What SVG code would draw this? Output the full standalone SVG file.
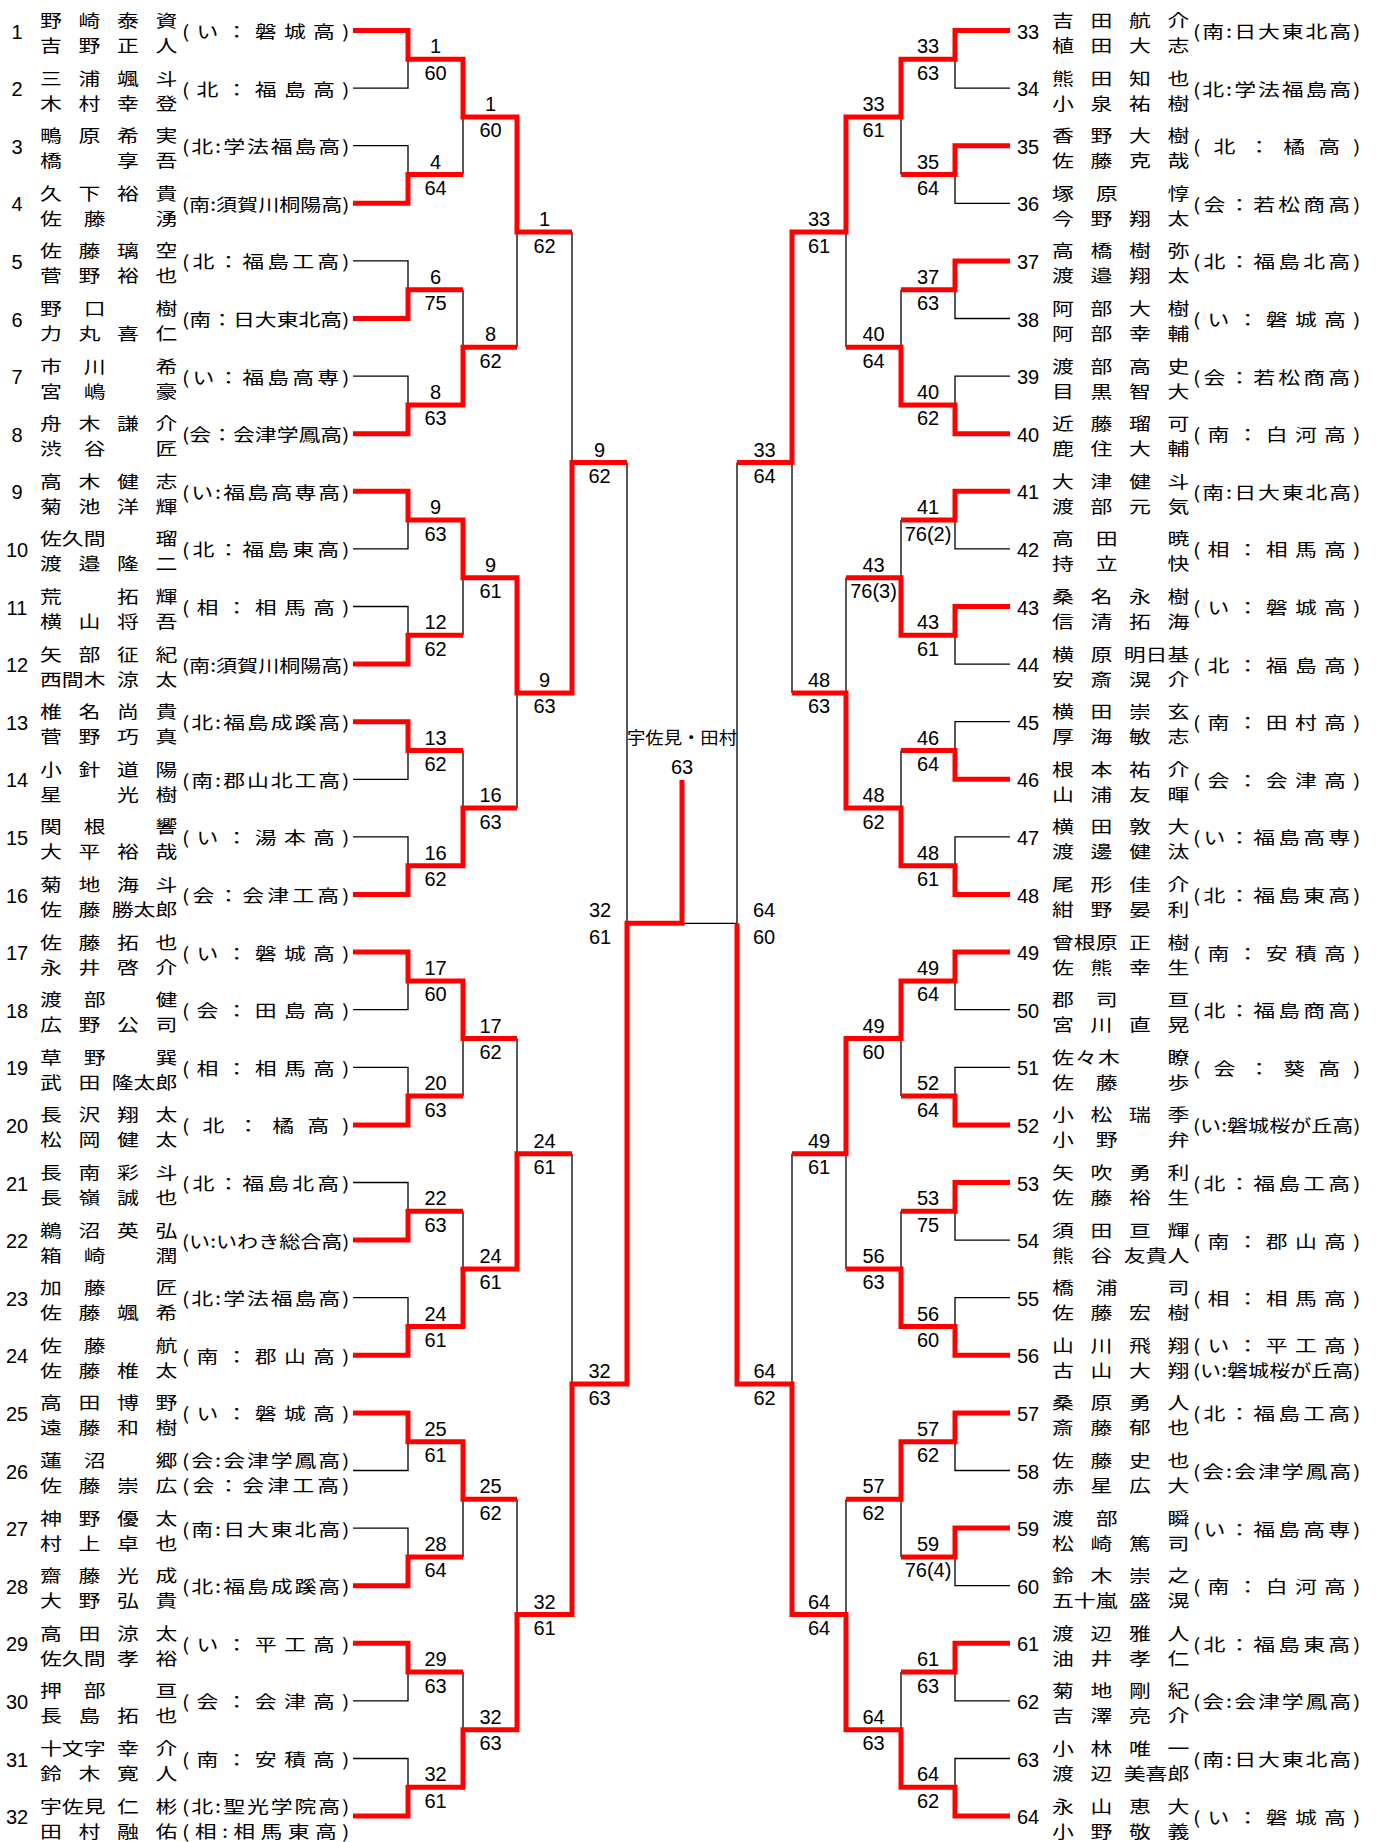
<svg xmlns="http://www.w3.org/2000/svg" width="1378" height="1842" viewBox="0 0 1378 1842">
<style>
.n{font-family:"Liberation Sans",Arial,sans-serif;font-size:20px;text-anchor:middle;fill:#000}
.j{font-family:"Noto Sans CJK JP","Noto Sans CJK SC",sans-serif;font-size:17.5px;fill:#000}
.k{fill:none;stroke:#000;stroke-width:1.3}
.r{fill:none;stroke:#f00;stroke-width:5;stroke-linejoin:miter}
</style>
<rect width="1378" height="1842" fill="#fff"/>
<g id="connectors">
<path class="k" d="M353 88.1H408V59.3M353 145.7H408V174.5M353 260.9H408V289.7M353 376.1H408V404.9M353 548.9H408V520.1M353 606.5H408V635.3M353 779.3H408V750.5M353 836.9H408V865.7M353 1009.7H408V980.9M353 1067.3H408V1096.1M353 1182.5H408V1211.3M353 1297.7H408V1326.5M353 1470.5H408V1441.7M353 1528.1H408V1556.9M353 1700.9H408V1672.1M353 1758.5H408V1787.3"/>
<path class="k" d="M463 174.5V116.9M463 289.7V347.3M463 635.3V577.7M463 750.5V808.1M463 1096.1V1038.5M463 1211.3V1268.9M463 1556.9V1499.3M463 1672.1V1729.7M517 347.3V232.1M517 808.1V692.9M517 1038.5V1153.7M517 1499.3V1614.5M572 232.1V462.5M572 1153.7V1384.1M627 462.5V923.3M682 923.3H737M737 462.5V923.3"/>
<path class="k" d="M792 692.9V462.5M792 1153.7V1384.1M846 347.3V232.1M846 577.7V692.9M846 1268.9V1153.7M846 1499.3V1614.5M901 174.5V116.9M901 289.7V347.3M901 520.1V577.7M901 750.5V808.1M901 1096.1V1038.5M901 1211.3V1268.9M901 1556.9V1499.3M901 1672.1V1729.7"/>
<path class="k" d="M1010 88.1H955V59.3M1010 203.3H955V174.5M1010 318.5H955V289.7M1010 376.1H955V404.9M1010 548.9H955V520.1M1010 664.1H955V635.3M1010 721.7H955V750.5M1010 836.9H955V865.7M1010 1009.7H955V980.9M1010 1067.3H955V1096.1M1010 1240.1H955V1211.3M1010 1297.7H955V1326.5M1010 1470.5H955V1441.7M1010 1585.7H955V1556.9M1010 1700.9H955V1672.1M1010 1758.5H955V1787.3"/>
<path class="r" d="M353 30.5H408V59.3H463V116.9H517V232.1H572M353 203.3H408V174.5H463M353 318.5H408V289.7H463M353 433.7H408V404.9H463V347.3H517M353 491.3H408V520.1H463V577.7H517V692.9H572V462.5H627M353 664.1H408V635.3H463M353 721.7H408V750.5H463M353 894.5H408V865.7H463V808.1H517M353 952.1H408V980.9H463V1038.5H517M353 1124.9H408V1096.1H463M353 1240.1H408V1211.3H463M353 1355.3H408V1326.5H463V1268.9H517V1153.7H572M353 1412.9H408V1441.7H463V1499.3H517M353 1585.7H408V1556.9H463M353 1643.3H408V1672.1H463M353 1816.1H408V1787.3H463V1729.7H517V1614.5H572V1384.1H627V923.3H682V780"/>
<path class="r" d="M1010 30.5H955V59.3H901V116.9H846V232.1H792V462.5H737M1010 145.7H955V174.5H901M1010 260.9H955V289.7H901M1010 433.7H955V404.9H901V347.3H846M1010 491.3H955V520.1H901M1010 606.5H955V635.3H901V577.7H846M1010 779.3H955V750.5H901M1010 894.5H955V865.7H901V808.1H846V692.9H792M1010 952.1H955V980.9H901V1038.5H846V1153.7H792M1010 1124.9H955V1096.1H901M1010 1182.5H955V1211.3H901M1010 1355.3H955V1326.5H901V1268.9H846M1010 1412.9H955V1441.7H901V1499.3H846M1010 1528.1H955V1556.9H901M1010 1643.3H955V1672.1H901M1010 1816.1H955V1787.3H901V1729.7H846V1614.5H792V1384.1H737V923.3"/>
</g>
<g id="scores" class="n">
<text x="435.5" y="53.3">1</text><text x="435.5" y="79.8">60</text>
<text x="435.5" y="168.5">4</text><text x="435.5" y="195">64</text>
<text x="435.5" y="283.7">6</text><text x="435.5" y="310.2">75</text>
<text x="435.5" y="398.9">8</text><text x="435.5" y="425.4">63</text>
<text x="435.5" y="514.1">9</text><text x="435.5" y="540.6">63</text>
<text x="435.5" y="629.3">12</text><text x="435.5" y="655.8">62</text>
<text x="435.5" y="744.5">13</text><text x="435.5" y="771">62</text>
<text x="435.5" y="859.7">16</text><text x="435.5" y="886.2">62</text>
<text x="435.5" y="974.9">17</text><text x="435.5" y="1001.4">60</text>
<text x="435.5" y="1090.1">20</text><text x="435.5" y="1116.6">63</text>
<text x="435.5" y="1205.3">22</text><text x="435.5" y="1231.8">63</text>
<text x="435.5" y="1320.5">24</text><text x="435.5" y="1347">61</text>
<text x="435.5" y="1435.7">25</text><text x="435.5" y="1462.2">61</text>
<text x="435.5" y="1550.9">28</text><text x="435.5" y="1577.4">64</text>
<text x="435.5" y="1666.1">29</text><text x="435.5" y="1692.6">63</text>
<text x="435.5" y="1781.3">32</text><text x="435.5" y="1807.8">61</text>
<text x="490.5" y="110.9">1</text><text x="490.5" y="137.4">60</text>
<text x="490.5" y="341.3">8</text><text x="490.5" y="367.8">62</text>
<text x="490.5" y="571.7">9</text><text x="490.5" y="598.2">61</text>
<text x="490.5" y="802.1">16</text><text x="490.5" y="828.6">63</text>
<text x="490.5" y="1032.5">17</text><text x="490.5" y="1059">62</text>
<text x="490.5" y="1262.9">24</text><text x="490.5" y="1289.4">61</text>
<text x="490.5" y="1493.3">25</text><text x="490.5" y="1519.8">62</text>
<text x="490.5" y="1723.7">32</text><text x="490.5" y="1750.2">63</text>
<text x="544.5" y="226.1">1</text><text x="544.5" y="252.6">62</text>
<text x="544.5" y="686.9">9</text><text x="544.5" y="713.4">63</text>
<text x="544.5" y="1147.7">24</text><text x="544.5" y="1174.2">61</text>
<text x="544.5" y="1608.5">32</text><text x="544.5" y="1635">61</text>
<text x="599.5" y="456.5">9</text><text x="599.5" y="483">62</text>
<text x="599.5" y="1378.1">32</text><text x="599.5" y="1404.6">63</text>
<text x="600" y="917.3">32</text><text x="600" y="943.8">61</text>
<text x="928" y="53.3">33</text><text x="928" y="79.8">63</text>
<text x="928" y="168.5">35</text><text x="928" y="195">64</text>
<text x="928" y="283.7">37</text><text x="928" y="310.2">63</text>
<text x="928" y="398.9">40</text><text x="928" y="425.4">62</text>
<text x="928" y="514.1">41</text><text x="928" y="540.6">76(2)</text>
<text x="928" y="629.3">43</text><text x="928" y="655.8">61</text>
<text x="928" y="744.5">46</text><text x="928" y="771">64</text>
<text x="928" y="859.7">48</text><text x="928" y="886.2">61</text>
<text x="928" y="974.9">49</text><text x="928" y="1001.4">64</text>
<text x="928" y="1090.1">52</text><text x="928" y="1116.6">64</text>
<text x="928" y="1205.3">53</text><text x="928" y="1231.8">75</text>
<text x="928" y="1320.5">56</text><text x="928" y="1347">60</text>
<text x="928" y="1435.7">57</text><text x="928" y="1462.2">62</text>
<text x="928" y="1550.9">59</text><text x="928" y="1577.4">76(4)</text>
<text x="928" y="1666.1">61</text><text x="928" y="1692.6">63</text>
<text x="928" y="1781.3">64</text><text x="928" y="1807.8">62</text>
<text x="873.5" y="110.9">33</text><text x="873.5" y="137.4">61</text>
<text x="873.5" y="341.3">40</text><text x="873.5" y="367.8">64</text>
<text x="873.5" y="571.7">43</text><text x="873.5" y="598.2">76(3)</text>
<text x="873.5" y="802.1">48</text><text x="873.5" y="828.6">62</text>
<text x="873.5" y="1032.5">49</text><text x="873.5" y="1059">60</text>
<text x="873.5" y="1262.9">56</text><text x="873.5" y="1289.4">63</text>
<text x="873.5" y="1493.3">57</text><text x="873.5" y="1519.8">62</text>
<text x="873.5" y="1723.7">64</text><text x="873.5" y="1750.2">63</text>
<text x="819" y="226.1">33</text><text x="819" y="252.6">61</text>
<text x="819" y="686.9">48</text><text x="819" y="713.4">63</text>
<text x="819" y="1147.7">49</text><text x="819" y="1174.2">61</text>
<text x="819" y="1608.5">64</text><text x="819" y="1635">64</text>
<text x="764.5" y="456.5">33</text><text x="764.5" y="483">64</text>
<text x="764.5" y="1378.1">64</text><text x="764.5" y="1404.6">62</text>
<text x="764" y="917.3">64</text><text x="764" y="943.8">60</text>
</g>
<g id="champion">
<text class="j" x="627" y="744" textLength="110" lengthAdjust="spacingAndGlyphs">宇佐見・田村</text>
<text class="n" x="682" y="773.5">63</text>
</g>
<g id="p1" transform="translate(0 30.5)"><text class="n" x="17" y="8">1</text><g class="j" transform="translate(40 0) scale(1.25 1)"><text x="0 30.8 61.6 92.4" y="-3.5">野崎泰資</text><text x="0 30.8 61.6 92.4" y="21.5">吉野正人</text><text x="113.6" y="7.5" textLength="134" lengthAdjust="spacing">(い：磐城高)</text></g></g>
<g id="p2" transform="translate(0 88.1)"><text class="n" x="17" y="8">2</text><g class="j" transform="translate(40 0) scale(1.25 1)"><text x="0 30.8 61.6 92.4" y="-3.5">三浦颯斗</text><text x="0 30.8 61.6 92.4" y="21.5">木村幸登</text><text x="113.6" y="7.5" textLength="134" lengthAdjust="spacing">(北：福島高)</text></g></g>
<g id="p3" transform="translate(0 145.7)"><text class="n" x="17" y="8">3</text><g class="j" transform="translate(40 0) scale(1.25 1)"><text x="0 30.8 61.6 92.4" y="-3.5">鴫原希実</text><text x="0 61.6 92.4" y="21.5">橋享吾</text><text x="113.6" y="7.5" textLength="134" lengthAdjust="spacing">(北:学法福島高)</text></g></g>
<g id="p4" transform="translate(0 203.3)"><text class="n" x="17" y="8">4</text><g class="j" transform="translate(40 0) scale(1.25 1)"><text x="0 30.8 61.6 92.4" y="-3.5">久下裕貴</text><text x="0 35 92.4" y="21.5">佐藤湧</text><text x="113.6" y="7.5" textLength="134" lengthAdjust="spacingAndGlyphs">(南:須賀川桐陽高)</text></g></g>
<g id="p5" transform="translate(0 260.9)"><text class="n" x="17" y="8">5</text><g class="j" transform="translate(40 0) scale(1.25 1)"><text x="0 30.8 61.6 92.4" y="-3.5">佐藤璃空</text><text x="0 30.8 61.6 92.4" y="21.5">菅野裕也</text><text x="113.6" y="7.5" textLength="134" lengthAdjust="spacing">(北：福島工高)</text></g></g>
<g id="p6" transform="translate(0 318.5)"><text class="n" x="17" y="8">6</text><g class="j" transform="translate(40 0) scale(1.25 1)"><text x="0 35 92.4" y="-3.5">野口樹</text><text x="0 30.8 61.6 92.4" y="21.5">力丸喜仁</text><text x="113.6" y="7.5" textLength="134" lengthAdjust="spacing">(南：日大東北高)</text></g></g>
<g id="p7" transform="translate(0 376.1)"><text class="n" x="17" y="8">7</text><g class="j" transform="translate(40 0) scale(1.25 1)"><text x="0 35 92.4" y="-3.5">市川希</text><text x="0 35 92.4" y="21.5">宮嶋豪</text><text x="113.6" y="7.5" textLength="134" lengthAdjust="spacing">(い：福島高専)</text></g></g>
<g id="p8" transform="translate(0 433.7)"><text class="n" x="17" y="8">8</text><g class="j" transform="translate(40 0) scale(1.25 1)"><text x="0 30.8 61.6 92.4" y="-3.5">舟木謙介</text><text x="0 35 92.4" y="21.5">渋谷匠</text><text x="113.6" y="7.5" textLength="134" lengthAdjust="spacing">(会：会津学鳳高)</text></g></g>
<g id="p9" transform="translate(0 491.3)"><text class="n" x="17" y="8">9</text><g class="j" transform="translate(40 0) scale(1.25 1)"><text x="0 30.8 61.6 92.4" y="-3.5">高木健志</text><text x="0 30.8 61.6 92.4" y="21.5">菊池洋輝</text><text x="113.6" y="7.5" textLength="134" lengthAdjust="spacing">(い:福島高専高)</text></g></g>
<g id="p10" transform="translate(0 548.9)"><text class="n" x="17" y="8">10</text><g class="j" transform="translate(40 0) scale(1.25 1)"><text x="0 17.5 35 92.4" y="-3.5">佐久間瑠</text><text x="0 30.8 61.6 92.4" y="21.5">渡邉隆二</text><text x="113.6" y="7.5" textLength="134" lengthAdjust="spacing">(北：福島東高)</text></g></g>
<g id="p11" transform="translate(0 606.5)"><text class="n" x="17" y="8">11</text><g class="j" transform="translate(40 0) scale(1.25 1)"><text x="0 61.6 92.4" y="-3.5">荒拓輝</text><text x="0 30.8 61.6 92.4" y="21.5">横山将吾</text><text x="113.6" y="7.5" textLength="134" lengthAdjust="spacing">(相：相馬高)</text></g></g>
<g id="p12" transform="translate(0 664.1)"><text class="n" x="17" y="8">12</text><g class="j" transform="translate(40 0) scale(1.25 1)"><text x="0 30.8 61.6 92.4" y="-3.5">矢部征紀</text><text x="0 17.5 35 61.6 92.4" y="21.5">西間木涼太</text><text x="113.6" y="7.5" textLength="134" lengthAdjust="spacingAndGlyphs">(南:須賀川桐陽高)</text></g></g>
<g id="p13" transform="translate(0 721.7)"><text class="n" x="17" y="8">13</text><g class="j" transform="translate(40 0) scale(1.25 1)"><text x="0 30.8 61.6 92.4" y="-3.5">椎名尚貴</text><text x="0 30.8 61.6 92.4" y="21.5">菅野巧真</text><text x="113.6" y="7.5" textLength="134" lengthAdjust="spacing">(北:福島成蹊高)</text></g></g>
<g id="p14" transform="translate(0 779.3)"><text class="n" x="17" y="8">14</text><g class="j" transform="translate(40 0) scale(1.25 1)"><text x="0 30.8 61.6 92.4" y="-3.5">小針道陽</text><text x="0 61.6 92.4" y="21.5">星光樹</text><text x="113.6" y="7.5" textLength="134" lengthAdjust="spacing">(南:郡山北工高)</text></g></g>
<g id="p15" transform="translate(0 836.9)"><text class="n" x="17" y="8">15</text><g class="j" transform="translate(40 0) scale(1.25 1)"><text x="0 35 92.4" y="-3.5">関根響</text><text x="0 30.8 61.6 92.4" y="21.5">大平裕哉</text><text x="113.6" y="7.5" textLength="134" lengthAdjust="spacing">(い：湯本高)</text></g></g>
<g id="p16" transform="translate(0 894.5)"><text class="n" x="17" y="8">16</text><g class="j" transform="translate(40 0) scale(1.25 1)"><text x="0 30.8 61.6 92.4" y="-3.5">菊地海斗</text><text x="0 30.8 57.4 74.9 92.4" y="21.5">佐藤勝太郎</text><text x="113.6" y="7.5" textLength="134" lengthAdjust="spacing">(会：会津工高)</text></g></g>
<g id="p17" transform="translate(0 952.1)"><text class="n" x="17" y="8">17</text><g class="j" transform="translate(40 0) scale(1.25 1)"><text x="0 30.8 61.6 92.4" y="-3.5">佐藤拓也</text><text x="0 30.8 61.6 92.4" y="21.5">永井啓介</text><text x="113.6" y="7.5" textLength="134" lengthAdjust="spacing">(い：磐城高)</text></g></g>
<g id="p18" transform="translate(0 1009.7)"><text class="n" x="17" y="8">18</text><g class="j" transform="translate(40 0) scale(1.25 1)"><text x="0 35 92.4" y="-3.5">渡部健</text><text x="0 30.8 61.6 92.4" y="21.5">広野公司</text><text x="113.6" y="7.5" textLength="134" lengthAdjust="spacing">(会：田島高)</text></g></g>
<g id="p19" transform="translate(0 1067.3)"><text class="n" x="17" y="8">19</text><g class="j" transform="translate(40 0) scale(1.25 1)"><text x="0 35 92.4" y="-3.5">草野巽</text><text x="0 30.8 57.4 74.9 92.4" y="21.5">武田隆太郎</text><text x="113.6" y="7.5" textLength="134" lengthAdjust="spacing">(相：相馬高)</text></g></g>
<g id="p20" transform="translate(0 1124.9)"><text class="n" x="17" y="8">20</text><g class="j" transform="translate(40 0) scale(1.25 1)"><text x="0 30.8 61.6 92.4" y="-3.5">長沢翔太</text><text x="0 30.8 61.6 92.4" y="21.5">松岡健太</text><text x="113.6" y="7.5" textLength="134" lengthAdjust="spacing">(北：橘高)</text></g></g>
<g id="p21" transform="translate(0 1182.5)"><text class="n" x="17" y="8">21</text><g class="j" transform="translate(40 0) scale(1.25 1)"><text x="0 30.8 61.6 92.4" y="-3.5">長南彩斗</text><text x="0 30.8 61.6 92.4" y="21.5">長嶺誠也</text><text x="113.6" y="7.5" textLength="134" lengthAdjust="spacing">(北：福島北高)</text></g></g>
<g id="p22" transform="translate(0 1240.1)"><text class="n" x="17" y="8">22</text><g class="j" transform="translate(40 0) scale(1.25 1)"><text x="0 30.8 61.6 92.4" y="-3.5">鵜沼英弘</text><text x="0 35 92.4" y="21.5">箱崎潤</text><text x="113.6" y="7.5" textLength="134" lengthAdjust="spacingAndGlyphs">(い:いわき総合高)</text></g></g>
<g id="p23" transform="translate(0 1297.7)"><text class="n" x="17" y="8">23</text><g class="j" transform="translate(40 0) scale(1.25 1)"><text x="0 35 92.4" y="-3.5">加藤匠</text><text x="0 30.8 61.6 92.4" y="21.5">佐藤颯希</text><text x="113.6" y="7.5" textLength="134" lengthAdjust="spacing">(北:学法福島高)</text></g></g>
<g id="p24" transform="translate(0 1355.3)"><text class="n" x="17" y="8">24</text><g class="j" transform="translate(40 0) scale(1.25 1)"><text x="0 35 92.4" y="-3.5">佐藤航</text><text x="0 30.8 61.6 92.4" y="21.5">佐藤椎太</text><text x="113.6" y="7.5" textLength="134" lengthAdjust="spacing">(南：郡山高)</text></g></g>
<g id="p25" transform="translate(0 1412.9)"><text class="n" x="17" y="8">25</text><g class="j" transform="translate(40 0) scale(1.25 1)"><text x="0 30.8 61.6 92.4" y="-3.5">高田博野</text><text x="0 30.8 61.6 92.4" y="21.5">遠藤和樹</text><text x="113.6" y="7.5" textLength="134" lengthAdjust="spacing">(い：磐城高)</text></g></g>
<g id="p26" transform="translate(0 1470.5)"><text class="n" x="17" y="8">26</text><g class="j" transform="translate(40 0) scale(1.25 1)"><text x="0 35 92.4" y="-3.5">蓮沼郷</text><text x="0 30.8 61.6 92.4" y="21.5">佐藤崇広</text><text x="113.6" y="-3.5" textLength="134" lengthAdjust="spacing">(会:会津学鳳高)</text><text x="113.6" y="21.5" textLength="134" lengthAdjust="spacing">(会：会津工高)</text></g></g>
<g id="p27" transform="translate(0 1528.1)"><text class="n" x="17" y="8">27</text><g class="j" transform="translate(40 0) scale(1.25 1)"><text x="0 30.8 61.6 92.4" y="-3.5">神野優太</text><text x="0 30.8 61.6 92.4" y="21.5">村上卓也</text><text x="113.6" y="7.5" textLength="134" lengthAdjust="spacing">(南:日大東北高)</text></g></g>
<g id="p28" transform="translate(0 1585.7)"><text class="n" x="17" y="8">28</text><g class="j" transform="translate(40 0) scale(1.25 1)"><text x="0 30.8 61.6 92.4" y="-3.5">齋藤光成</text><text x="0 30.8 61.6 92.4" y="21.5">大野弘貴</text><text x="113.6" y="7.5" textLength="134" lengthAdjust="spacing">(北:福島成蹊高)</text></g></g>
<g id="p29" transform="translate(0 1643.3)"><text class="n" x="17" y="8">29</text><g class="j" transform="translate(40 0) scale(1.25 1)"><text x="0 30.8 61.6 92.4" y="-3.5">高田涼太</text><text x="0 17.5 35 61.6 92.4" y="21.5">佐久間孝裕</text><text x="113.6" y="7.5" textLength="134" lengthAdjust="spacing">(い：平工高)</text></g></g>
<g id="p30" transform="translate(0 1700.9)"><text class="n" x="17" y="8">30</text><g class="j" transform="translate(40 0) scale(1.25 1)"><text x="0 35 92.4" y="-3.5">押部亘</text><text x="0 30.8 61.6 92.4" y="21.5">長島拓也</text><text x="113.6" y="7.5" textLength="134" lengthAdjust="spacing">(会：会津高)</text></g></g>
<g id="p31" transform="translate(0 1758.5)"><text class="n" x="17" y="8">31</text><g class="j" transform="translate(40 0) scale(1.25 1)"><text x="0 17.5 35 61.6 92.4" y="-3.5">十文字幸介</text><text x="0 30.8 61.6 92.4" y="21.5">鈴木寛人</text><text x="113.6" y="7.5" textLength="134" lengthAdjust="spacing">(南：安積高)</text></g></g>
<g id="p32" transform="translate(0 1816.1)"><text class="n" x="17" y="8">32</text><g class="j" transform="translate(40 0) scale(1.25 1)"><text x="0 17.5 35 61.6 92.4" y="-3.5">宇佐見仁彬</text><text x="0 30.8 61.6 92.4" y="21.5">田村融佑</text><text x="113.6" y="-3.5" textLength="134" lengthAdjust="spacing">(北:聖光学院高)</text><text x="113.6" y="21.5" textLength="134" lengthAdjust="spacing">(相:相馬東高)</text></g></g>
<g id="p33" transform="translate(0 30.5)"><text class="n" x="1028" y="8">33</text><g class="j" transform="translate(1052 0) scale(1.25 1)"><text x="0 30.8 61.6 92.4" y="-3.5">吉田航介</text><text x="0 30.8 61.6 92.4" y="21.5">植田大志</text><text x="112.8" y="7.5" textLength="134" lengthAdjust="spacing">(南:日大東北高)</text></g></g>
<g id="p34" transform="translate(0 88.1)"><text class="n" x="1028" y="8">34</text><g class="j" transform="translate(1052 0) scale(1.25 1)"><text x="0 30.8 61.6 92.4" y="-3.5">熊田知也</text><text x="0 30.8 61.6 92.4" y="21.5">小泉祐樹</text><text x="112.8" y="7.5" textLength="134" lengthAdjust="spacing">(北:学法福島高)</text></g></g>
<g id="p35" transform="translate(0 145.7)"><text class="n" x="1028" y="8">35</text><g class="j" transform="translate(1052 0) scale(1.25 1)"><text x="0 30.8 61.6 92.4" y="-3.5">香野大樹</text><text x="0 30.8 61.6 92.4" y="21.5">佐藤克哉</text><text x="112.8" y="7.5" textLength="134" lengthAdjust="spacing">(北：橘高)</text></g></g>
<g id="p36" transform="translate(0 203.3)"><text class="n" x="1028" y="8">36</text><g class="j" transform="translate(1052 0) scale(1.25 1)"><text x="0 35 92.4" y="-3.5">塚原惇</text><text x="0 30.8 61.6 92.4" y="21.5">今野翔太</text><text x="112.8" y="7.5" textLength="134" lengthAdjust="spacing">(会：若松商高)</text></g></g>
<g id="p37" transform="translate(0 260.9)"><text class="n" x="1028" y="8">37</text><g class="j" transform="translate(1052 0) scale(1.25 1)"><text x="0 30.8 61.6 92.4" y="-3.5">高橋樹弥</text><text x="0 30.8 61.6 92.4" y="21.5">渡邉翔太</text><text x="112.8" y="7.5" textLength="134" lengthAdjust="spacing">(北：福島北高)</text></g></g>
<g id="p38" transform="translate(0 318.5)"><text class="n" x="1028" y="8">38</text><g class="j" transform="translate(1052 0) scale(1.25 1)"><text x="0 30.8 61.6 92.4" y="-3.5">阿部大樹</text><text x="0 30.8 61.6 92.4" y="21.5">阿部幸輔</text><text x="112.8" y="7.5" textLength="134" lengthAdjust="spacing">(い：磐城高)</text></g></g>
<g id="p39" transform="translate(0 376.1)"><text class="n" x="1028" y="8">39</text><g class="j" transform="translate(1052 0) scale(1.25 1)"><text x="0 30.8 61.6 92.4" y="-3.5">渡部高史</text><text x="0 30.8 61.6 92.4" y="21.5">目黒智大</text><text x="112.8" y="7.5" textLength="134" lengthAdjust="spacing">(会：若松商高)</text></g></g>
<g id="p40" transform="translate(0 433.7)"><text class="n" x="1028" y="8">40</text><g class="j" transform="translate(1052 0) scale(1.25 1)"><text x="0 30.8 61.6 92.4" y="-3.5">近藤瑠可</text><text x="0 30.8 61.6 92.4" y="21.5">鹿住大輔</text><text x="112.8" y="7.5" textLength="134" lengthAdjust="spacing">(南：白河高)</text></g></g>
<g id="p41" transform="translate(0 491.3)"><text class="n" x="1028" y="8">41</text><g class="j" transform="translate(1052 0) scale(1.25 1)"><text x="0 30.8 61.6 92.4" y="-3.5">大津健斗</text><text x="0 30.8 61.6 92.4" y="21.5">渡部元気</text><text x="112.8" y="7.5" textLength="134" lengthAdjust="spacing">(南:日大東北高)</text></g></g>
<g id="p42" transform="translate(0 548.9)"><text class="n" x="1028" y="8">42</text><g class="j" transform="translate(1052 0) scale(1.25 1)"><text x="0 35 92.4" y="-3.5">高田暁</text><text x="0 35 92.4" y="21.5">持立快</text><text x="112.8" y="7.5" textLength="134" lengthAdjust="spacing">(相：相馬高)</text></g></g>
<g id="p43" transform="translate(0 606.5)"><text class="n" x="1028" y="8">43</text><g class="j" transform="translate(1052 0) scale(1.25 1)"><text x="0 30.8 61.6 92.4" y="-3.5">桑名永樹</text><text x="0 30.8 61.6 92.4" y="21.5">信清拓海</text><text x="112.8" y="7.5" textLength="134" lengthAdjust="spacing">(い：磐城高)</text></g></g>
<g id="p44" transform="translate(0 664.1)"><text class="n" x="1028" y="8">44</text><g class="j" transform="translate(1052 0) scale(1.25 1)"><text x="0 30.8 57.4 74.9 92.4" y="-3.5">横原明日基</text><text x="0 30.8 61.6 92.4" y="21.5">安斎滉介</text><text x="112.8" y="7.5" textLength="134" lengthAdjust="spacing">(北：福島高)</text></g></g>
<g id="p45" transform="translate(0 721.7)"><text class="n" x="1028" y="8">45</text><g class="j" transform="translate(1052 0) scale(1.25 1)"><text x="0 30.8 61.6 92.4" y="-3.5">横田崇玄</text><text x="0 30.8 61.6 92.4" y="21.5">厚海敏志</text><text x="112.8" y="7.5" textLength="134" lengthAdjust="spacing">(南：田村高)</text></g></g>
<g id="p46" transform="translate(0 779.3)"><text class="n" x="1028" y="8">46</text><g class="j" transform="translate(1052 0) scale(1.25 1)"><text x="0 30.8 61.6 92.4" y="-3.5">根本祐介</text><text x="0 30.8 61.6 92.4" y="21.5">山浦友暉</text><text x="112.8" y="7.5" textLength="134" lengthAdjust="spacing">(会：会津高)</text></g></g>
<g id="p47" transform="translate(0 836.9)"><text class="n" x="1028" y="8">47</text><g class="j" transform="translate(1052 0) scale(1.25 1)"><text x="0 30.8 61.6 92.4" y="-3.5">横田敦大</text><text x="0 30.8 61.6 92.4" y="21.5">渡邊健汰</text><text x="112.8" y="7.5" textLength="134" lengthAdjust="spacing">(い：福島高専)</text></g></g>
<g id="p48" transform="translate(0 894.5)"><text class="n" x="1028" y="8">48</text><g class="j" transform="translate(1052 0) scale(1.25 1)"><text x="0 30.8 61.6 92.4" y="-3.5">尾形佳介</text><text x="0 30.8 61.6 92.4" y="21.5">紺野晏利</text><text x="112.8" y="7.5" textLength="134" lengthAdjust="spacing">(北：福島東高)</text></g></g>
<g id="p49" transform="translate(0 952.1)"><text class="n" x="1028" y="8">49</text><g class="j" transform="translate(1052 0) scale(1.25 1)"><text x="0 17.5 35 61.6 92.4" y="-3.5">曾根原正樹</text><text x="0 30.8 61.6 92.4" y="21.5">佐熊幸生</text><text x="112.8" y="7.5" textLength="134" lengthAdjust="spacing">(南：安積高)</text></g></g>
<g id="p50" transform="translate(0 1009.7)"><text class="n" x="1028" y="8">50</text><g class="j" transform="translate(1052 0) scale(1.25 1)"><text x="0 35 92.4" y="-3.5">郡司亘</text><text x="0 30.8 61.6 92.4" y="21.5">宮川直晃</text><text x="112.8" y="7.5" textLength="134" lengthAdjust="spacing">(北：福島商高)</text></g></g>
<g id="p51" transform="translate(0 1067.3)"><text class="n" x="1028" y="8">51</text><g class="j" transform="translate(1052 0) scale(1.25 1)"><text x="0 18.4 36.8 92.4" y="-3.5">佐々木瞭</text><text x="0 35 92.4" y="21.5">佐藤歩</text><text x="112.8" y="7.5" textLength="134" lengthAdjust="spacing">(会：葵高)</text></g></g>
<g id="p52" transform="translate(0 1124.9)"><text class="n" x="1028" y="8">52</text><g class="j" transform="translate(1052 0) scale(1.25 1)"><text x="0 30.8 61.6 92.4" y="-3.5">小松瑞季</text><text x="0 35 92.4" y="21.5">小野弁</text><text x="112.8" y="7.5" textLength="134" lengthAdjust="spacingAndGlyphs">(い:磐城桜が丘高)</text></g></g>
<g id="p53" transform="translate(0 1182.5)"><text class="n" x="1028" y="8">53</text><g class="j" transform="translate(1052 0) scale(1.25 1)"><text x="0 30.8 61.6 92.4" y="-3.5">矢吹勇利</text><text x="0 30.8 61.6 92.4" y="21.5">佐藤裕生</text><text x="112.8" y="7.5" textLength="134" lengthAdjust="spacing">(北：福島工高)</text></g></g>
<g id="p54" transform="translate(0 1240.1)"><text class="n" x="1028" y="8">54</text><g class="j" transform="translate(1052 0) scale(1.25 1)"><text x="0 30.8 61.6 92.4" y="-3.5">須田亘輝</text><text x="0 30.8 57.4 74.9 92.4" y="21.5">熊谷友貴人</text><text x="112.8" y="7.5" textLength="134" lengthAdjust="spacing">(南：郡山高)</text></g></g>
<g id="p55" transform="translate(0 1297.7)"><text class="n" x="1028" y="8">55</text><g class="j" transform="translate(1052 0) scale(1.25 1)"><text x="0 35 92.4" y="-3.5">橋浦司</text><text x="0 30.8 61.6 92.4" y="21.5">佐藤宏樹</text><text x="112.8" y="7.5" textLength="134" lengthAdjust="spacing">(相：相馬高)</text></g></g>
<g id="p56" transform="translate(0 1355.3)"><text class="n" x="1028" y="8">56</text><g class="j" transform="translate(1052 0) scale(1.25 1)"><text x="0 30.8 61.6 92.4" y="-3.5">山川飛翔</text><text x="0 30.8 61.6 92.4" y="21.5">古山大翔</text><text x="112.8" y="-3.5" textLength="134" lengthAdjust="spacing">(い：平工高)</text><text x="112.8" y="21.5" textLength="134" lengthAdjust="spacingAndGlyphs">(い:磐城桜が丘高)</text></g></g>
<g id="p57" transform="translate(0 1412.9)"><text class="n" x="1028" y="8">57</text><g class="j" transform="translate(1052 0) scale(1.25 1)"><text x="0 30.8 61.6 92.4" y="-3.5">桑原勇人</text><text x="0 30.8 61.6 92.4" y="21.5">斎藤郁也</text><text x="112.8" y="7.5" textLength="134" lengthAdjust="spacing">(北：福島工高)</text></g></g>
<g id="p58" transform="translate(0 1470.5)"><text class="n" x="1028" y="8">58</text><g class="j" transform="translate(1052 0) scale(1.25 1)"><text x="0 30.8 61.6 92.4" y="-3.5">佐藤史也</text><text x="0 30.8 61.6 92.4" y="21.5">赤星広大</text><text x="112.8" y="7.5" textLength="134" lengthAdjust="spacing">(会:会津学鳳高)</text></g></g>
<g id="p59" transform="translate(0 1528.1)"><text class="n" x="1028" y="8">59</text><g class="j" transform="translate(1052 0) scale(1.25 1)"><text x="0 35 92.4" y="-3.5">渡部瞬</text><text x="0 30.8 61.6 92.4" y="21.5">松崎篤司</text><text x="112.8" y="7.5" textLength="134" lengthAdjust="spacing">(い：福島高専)</text></g></g>
<g id="p60" transform="translate(0 1585.7)"><text class="n" x="1028" y="8">60</text><g class="j" transform="translate(1052 0) scale(1.25 1)"><text x="0 30.8 61.6 92.4" y="-3.5">鈴木崇之</text><text x="0 17.5 35 61.6 92.4" y="21.5">五十嵐盛滉</text><text x="112.8" y="7.5" textLength="134" lengthAdjust="spacing">(南：白河高)</text></g></g>
<g id="p61" transform="translate(0 1643.3)"><text class="n" x="1028" y="8">61</text><g class="j" transform="translate(1052 0) scale(1.25 1)"><text x="0 30.8 61.6 92.4" y="-3.5">渡辺雅人</text><text x="0 30.8 61.6 92.4" y="21.5">油井孝仁</text><text x="112.8" y="7.5" textLength="134" lengthAdjust="spacing">(北：福島東高)</text></g></g>
<g id="p62" transform="translate(0 1700.9)"><text class="n" x="1028" y="8">62</text><g class="j" transform="translate(1052 0) scale(1.25 1)"><text x="0 30.8 61.6 92.4" y="-3.5">菊地剛紀</text><text x="0 30.8 61.6 92.4" y="21.5">吉澤亮介</text><text x="112.8" y="7.5" textLength="134" lengthAdjust="spacing">(会:会津学鳳高)</text></g></g>
<g id="p63" transform="translate(0 1758.5)"><text class="n" x="1028" y="8">63</text><g class="j" transform="translate(1052 0) scale(1.25 1)"><text x="0 30.8 61.6 92.4" y="-3.5">小林唯一</text><text x="0 30.8 57.4 74.9 92.4" y="21.5">渡辺美喜郎</text><text x="112.8" y="7.5" textLength="134" lengthAdjust="spacing">(南:日大東北高)</text></g></g>
<g id="p64" transform="translate(0 1816.1)"><text class="n" x="1028" y="8">64</text><g class="j" transform="translate(1052 0) scale(1.25 1)"><text x="0 30.8 61.6 92.4" y="-3.5">永山恵大</text><text x="0 30.8 61.6 92.4" y="21.5">小野敬義</text><text x="112.8" y="7.5" textLength="134" lengthAdjust="spacing">(い：磐城高)</text></g></g>
</svg>
